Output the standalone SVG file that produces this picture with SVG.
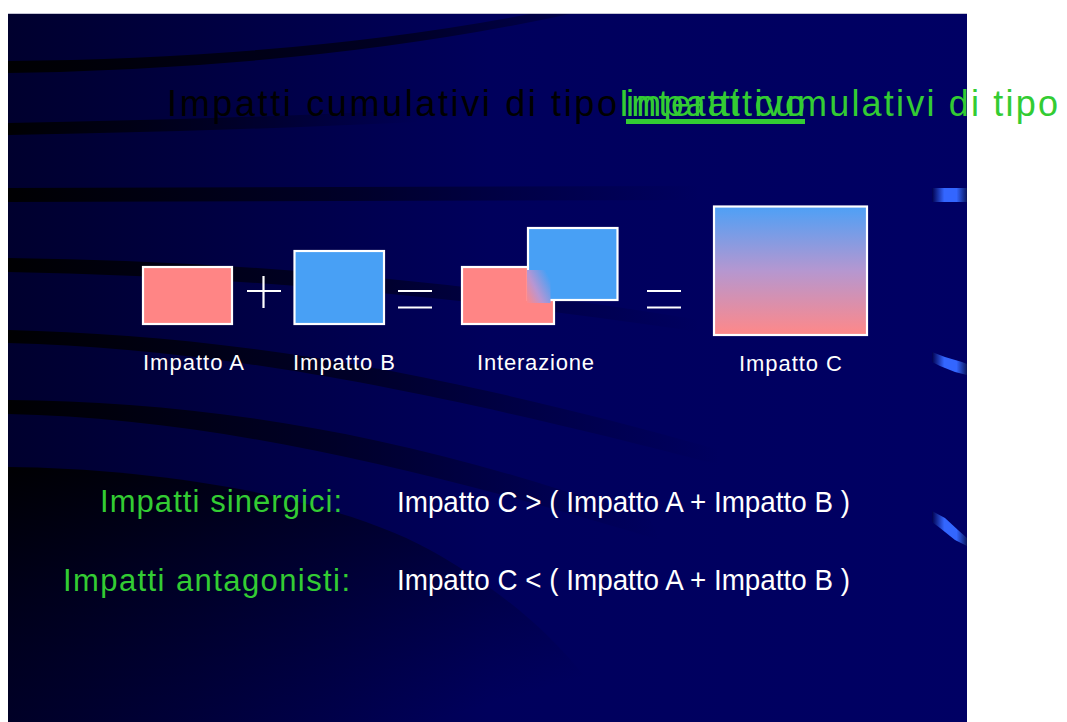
<svg xmlns="http://www.w3.org/2000/svg" width="1067" height="722" viewBox="0 0 1067 722">
<defs>
<style>
.ttl{font-family:"Liberation Sans",Arial,sans-serif;font-size:36px}
.lbl{font-family:"Liberation Sans",Arial,sans-serif;font-size:22px;fill:#fff}
.frm{font-family:"Liberation Sans",Arial,sans-serif;font-size:30px;fill:#fff}
.sub{font-family:"Liberation Sans",Arial,sans-serif;font-size:31px}
.grn{fill:#33CC33}
.box{stroke:#fff;stroke-width:2.2}
.op{stroke:#fff;stroke-width:2.2;fill:none}
</style>
<linearGradient id="bg" x1="0" y1="0" x2="1" y2="0">
 <stop offset="0" stop-color="#00002e"/>
 <stop offset="0.5" stop-color="#00005c"/>
 <stop offset="1" stop-color="#000064"/>
</linearGradient>
<linearGradient id="fade" x1="0" y1="0" x2="1" y2="0">
 <stop offset="0" stop-color="#000000" stop-opacity="0.95"/>
 <stop offset="0.5" stop-color="#000010" stop-opacity="0.6"/>
 <stop offset="1" stop-color="#000020" stop-opacity="0"/>
</linearGradient>
<linearGradient id="fade2" x1="0" y1="0" x2="1" y2="0">
 <stop offset="0" stop-color="#000000" stop-opacity="0.95"/>
 <stop offset="0.7" stop-color="#000010" stop-opacity="0.7"/>
 <stop offset="1" stop-color="#000020" stop-opacity="0.3"/>
</linearGradient>
<linearGradient id="bigfade" x1="0" y1="0" x2="0.7" y2="1">
 <stop offset="0" stop-color="#000000" stop-opacity="0.95"/>
 <stop offset="0.35" stop-color="#000008" stop-opacity="0.55"/>
 <stop offset="1" stop-color="#000020" stop-opacity="0"/>
</linearGradient>
<linearGradient id="gC" x1="0" y1="0" x2="0" y2="1">
 <stop offset="0" stop-color="#4EA0F6"/>
 <stop offset="0.5" stop-color="#B597D0"/>
 <stop offset="1" stop-color="#FF8888"/>
</linearGradient>
<linearGradient id="gBlob" x1="0" y1="1" x2="1" y2="0.3">
 <stop offset="0" stop-color="#FF8787"/>
 <stop offset="0.45" stop-color="#B896D2"/>
 <stop offset="1" stop-color="#48A0F5"/>
</linearGradient>
<linearGradient id="gBar" x1="0" y1="0" x2="1" y2="0">
 <stop offset="0" stop-color="#000050"/>
 <stop offset="0.35" stop-color="#3366FF"/>
 <stop offset="0.7" stop-color="#3366FF"/>
 <stop offset="1" stop-color="#0a1560"/>
</linearGradient>
</defs>

<g id="background">
 <rect x="0" y="0" width="1067" height="722" fill="#ffffff"/>
 <rect x="8" y="14" width="959" height="708" fill="url(#bg)"/>
 <rect x="8" y="13" width="959" height="1" fill="#c4c4d4"/>
 <path d="M8,61 Q300,58 530,14 L570,14 Q320,68 8,73 Z" fill="url(#fade2)"/>
 <path d="M8,123 Q200,120 420,110 L420,122 Q200,132 8,135 Z" fill="url(#fade)"/>
 <path d="M8,188 L700,186 L700,200 L8,202 Z" fill="url(#fade)"/>
 <path d="M8,258 Q350,262 700,320 L700,332 Q340,278 8,272 Z" fill="url(#fade)"/>
 <path d="M8,330 C200,335 400,360 720,450 L720,465 C400,382 200,348 8,343 Z" fill="url(#fade)"/>
 <path d="M8,400 C200,402 400,430 650,520 L660,540 C400,462 200,418 8,414 Z" fill="url(#fade)"/>
 <path d="M8,467 C150,468 330,495 430,550 C520,600 580,660 615,722 L8,722 Z" fill="url(#bigfade)"/>
 <rect x="932" y="188" width="35" height="14" fill="url(#gBar)"/>
 <path d="M932,352 L945,357 L962,362 L967,364 L967,375 L955,372 L940,366 L932,362 Z" fill="url(#gBar)"/>
 <path d="M932,511 L945,518 L958,530 L967,538 L967,546 L955,540 L940,528 L932,522 Z" fill="url(#gBar)"/>
</g>

<g id="title">
 <text class="ttl" x="167" y="116" fill="#000000" textLength="450">Impatti cumulativi di tipo</text>
 <text class="ttl grn" x="626" y="116" textLength="179">interattivo</text>
 <rect x="626" y="119" width="179" height="5" fill="#33CC33"/>
 <text class="ttl grn" x="619" y="116" textLength="439">Impatti cumulativi di tipo</text>
</g>

<g id="impatto-a">
 <rect class="box" x="143" y="267" width="89" height="57" fill="#FF8585"/>
 <text class="lbl" x="143" y="370" textLength="101">Impatto A</text>
</g>

<g id="impatto-b">
 <rect class="box" x="294.5" y="251" width="89.5" height="73" fill="#48A0F5"/>
 <text class="lbl" x="293" y="370" textLength="102">Impatto B</text>
</g>

<g id="interazione">
 <rect class="box" x="462" y="267" width="92" height="57" fill="#FF8585"/>
 <rect class="box" x="528" y="228" width="89.5" height="72" fill="#48A0F5"/>
 <rect x="527" y="270" width="23.5" height="33" fill="url(#gBlob)"/>
 <text class="lbl" x="477" y="370" textLength="117">Interazione</text>
</g>

<g id="impatto-c">
 <rect class="box" x="714" y="206.5" width="153" height="128.5" fill="url(#gC)"/>
 <text class="lbl" x="739" y="371" textLength="103">Impatto C</text>
</g>

<g id="connectors">
 <line class="op" x1="247" y1="291" x2="281" y2="291"/>
 <line class="op" x1="263.5" y1="276" x2="263.5" y2="308"/>
 <line class="op" x1="398" y1="291" x2="432" y2="291"/>
 <line class="op" x1="398" y1="307.5" x2="432" y2="307.5"/>
 <line class="op" x1="647" y1="291" x2="681" y2="291"/>
 <line class="op" x1="647" y1="307.5" x2="681" y2="307.5"/>
</g>

<g id="sinergici">
 <text class="sub grn" x="100" y="512" textLength="242">Impatti sinergici:</text>
 <text class="frm" x="397" y="511.5" textLength="453" lengthAdjust="spacingAndGlyphs">Impatto C &gt; ( Impatto A + Impatto B )</text>
</g>

<g id="antagonisti">
 <text class="sub grn" x="63" y="591" textLength="287">Impatti antagonisti:</text>
 <text class="frm" x="397" y="590" textLength="453" lengthAdjust="spacingAndGlyphs">Impatto C &lt; ( Impatto A + Impatto B )</text>
</g>
</svg>
